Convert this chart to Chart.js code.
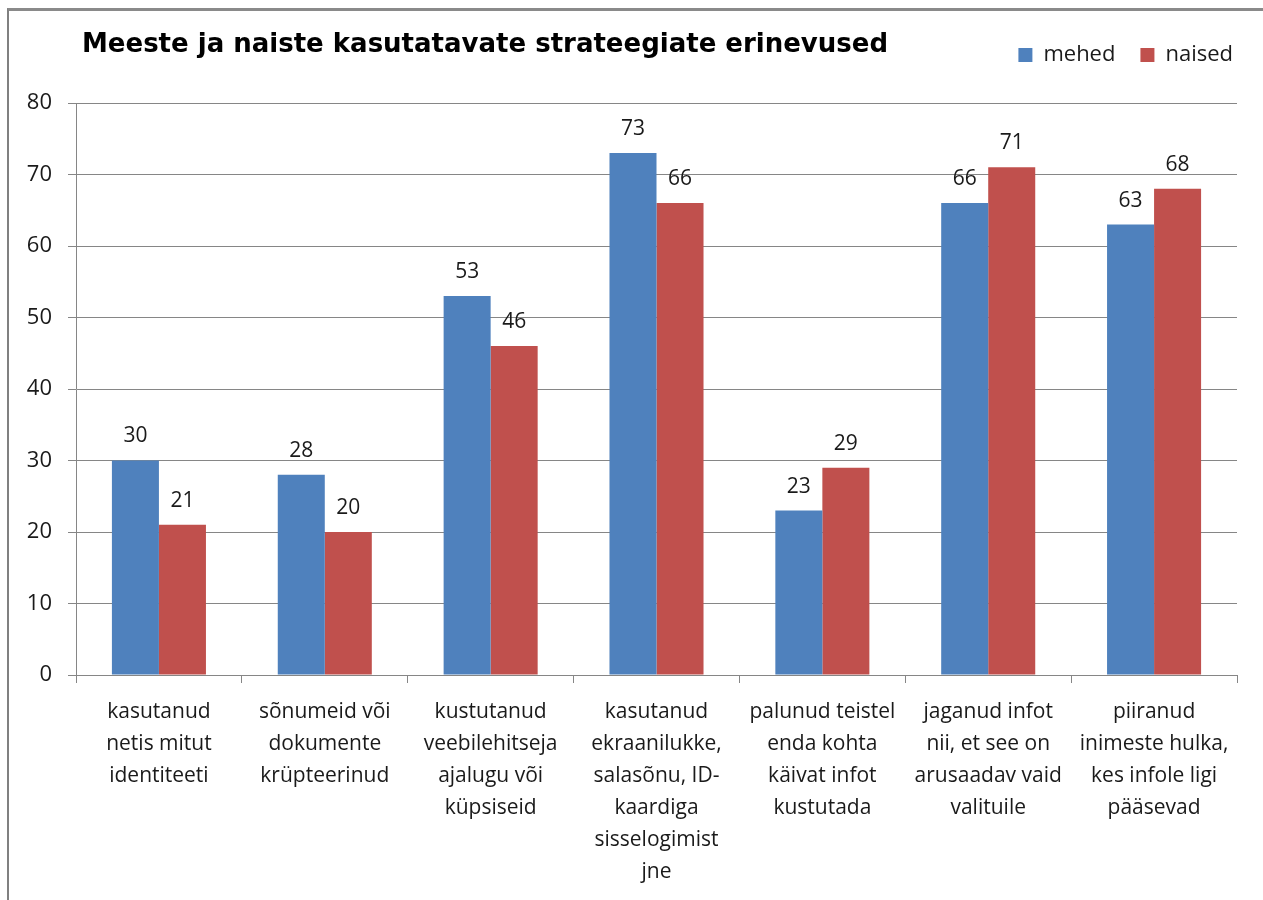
<!DOCTYPE html>
<html>
<head>
<meta charset="utf-8">
<script src="https://cdn.jsdelivr.net/npm/chart.js@4/dist/chart.umd.min.js"></script>
<style>
  html, body { margin: 0; padding: 0; background: #fff; overflow: hidden; }
  #frame { position: absolute; left: 7px; top: 8px; width: 2000px; height: 2000px;
           border-left: 2px solid #808080; border-top: 3px solid #8a8a8a; }
  #c { position: absolute; left: 0; top: 0; }
</style>
</head>
<body>
<div id="frame"></div>
<canvas id="c" width="1263" height="900"></canvas>
<script>
const titleText = "Meeste ja naiste kasutatavate strateegiate erinevused";
const categories = [
  ["kasutanud", "netis mitut", "identiteeti"],
  ["sõnumeid või", "dokumente", "krüpteerinud"],
  ["kustutanud", "veebilehitseja", "ajalugu või", "küpsiseid"],
  ["kasutanud", "ekraanilukke,", "salasõnu, ID-", "kaardiga", "sisselogimist", "jne"],
  ["palunud teistel", "enda kohta", "käivat infot", "kustutada"],
  ["jaganud infot", "nii, et see on", "arusaadav vaid", "valituile"],
  ["piiranud", "inimeste hulka,", "kes infole ligi", "pääsevad"]
];
const seriesNames = ["mehed", "naised"];
const mehed = [30, 28, 53, 73, 23, 66, 63];
const naised = [21, 20, 46, 66, 29, 71, 68];
const yMin = 0, yMax = 80, yStep = 10;

const FONT = "'Open Sans', sans-serif";

const valueLabels = {
  id: 'valueLabels',
  afterDatasetsDraw(chart) {
    const ctx = chart.ctx;
    ctx.save();
    ctx.font = "21px " + FONT;
    ctx.fillStyle = "#1a1a1a";
    ctx.textAlign = "center";
    ctx.textBaseline = "middle";
    chart.data.datasets.forEach((ds, i) => {
      chart.getDatasetMeta(i).data.forEach((bar, j) => {
        ctx.fillText(String(ds.data[j]), bar.x, bar.y - 24);
      });
    });
    ctx.restore();
  }
};

const titleDraw = {
  id: 'titleDraw',
  afterDraw(chart) {
    const ctx = chart.ctx;
    ctx.save();
    ctx.font = "bold 26px 'DejaVu Sans', sans-serif";
    ctx.fillStyle = "#000";
    ctx.textAlign = "left";
    ctx.textBaseline = "middle";
    ctx.fillText(titleText, 82, 45);
    ctx.restore();
  }
};

const legendSpacing = {
  id: 'legendSpacing',
  afterInit(chart) {
    const lg = chart.legend;
    if (!lg) return;
    const origFit = lg.fit;
    lg.fit = function () {
      origFit.bind(lg)();
      this.height += 27;
    };
  }
};

new Chart(document.getElementById('c'), {
  type: 'bar',
  data: {
    labels: categories,
    datasets: [
      { label: seriesNames[0], data: mehed, backgroundColor: '#4F81BD', borderWidth: 0 },
      { label: seriesNames[1], data: naised, backgroundColor: '#C0504D', borderWidth: 0 }
    ]
  },
  options: {
    responsive: false,
    animation: false,
    devicePixelRatio: 1,
    layout: { padding: { top: 19, right: 5, bottom: 0, left: 0 } },
    datasets: { bar: { categoryPercentage: 0.567, barPercentage: 1.0 } },
    plugins: {
      title: { display: false },
      tooltip: { enabled: false },
      legend: {
        display: true,
        position: 'top',
        align: 'end',
        labels: {
          font: { family: FONT, size: 22 },
          color: '#1a1a1a',
          boxWidth: 14,
          boxHeight: 14,
          padding: 25
        }
      }
    },
    scales: {
      x: {
        afterFit(scale) { scale.height = 225; },
        grid: { display: true, drawOnChartArea: false, drawTicks: true, tickLength: 8, color: '#868686', offset: true },
        border: { display: true, color: '#868686', width: 1 },
        ticks: {
          font: { family: FONT, size: 21, lineHeight: 1.52 },
          color: '#1a1a1a',
          padding: 13,
          maxRotation: 0,
          autoSkip: false
        }
      },
      y: {
        min: yMin, max: yMax,
        afterFit(scale) { scale.width = 76; },
        grid: { color: '#868686', tickLength: 8, lineWidth: 1 },
        border: { display: true, color: '#868686', width: 1 },
        ticks: {
          stepSize: yStep,
          font: { family: FONT, size: 22 },
          color: '#1a1a1a',
          padding: 16
        }
      },
      yRightSpace: {
        type: 'linear',
        position: 'right',
        display: true,
        afterFit(scale) { scale.width = 21; },
        grid: { display: false, drawTicks: false },
        border: { display: false },
        ticks: { display: false }
      }
    }
  },
  plugins: [valueLabels, titleDraw, legendSpacing]
});
</script>
</body>
</html>
